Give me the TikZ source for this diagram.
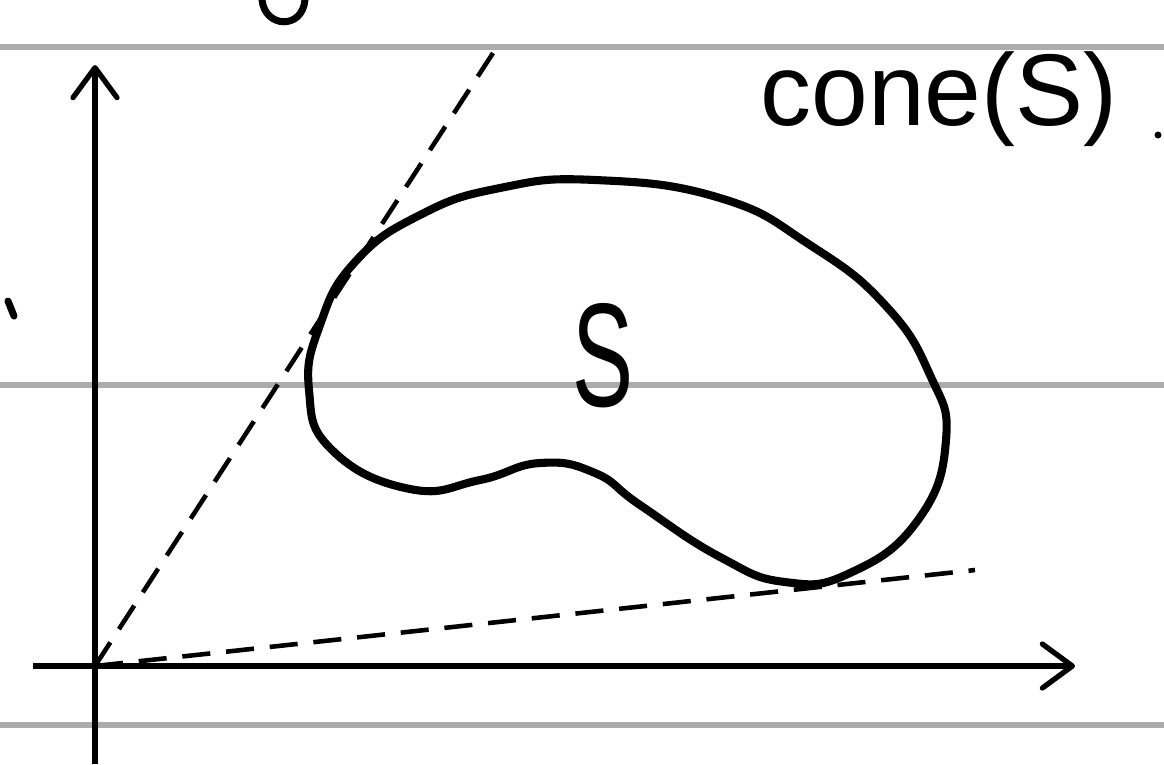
\documentclass[tikz,border=0pt]{standalone}
\usepackage{fontspec}
\setmainfont{Liberation Sans}
\usetikzlibrary{arrows.meta}
\tikzset{
  ruling/.style={draw=gray!65, line width=3pt},
  axis/.style={line width=3pt, -{Straight Barb[length=6mm,width=8.8mm,round]}},
  ray/.style={line width=2.6pt, dash pattern=on 16pt off 9pt},
  region/.style={line width=4.6pt, line join=round},
  pen/.style={line width=4pt, line cap=round},
  lbl/.style={inner sep=0pt, font=\fontsize{58}{60}\selectfont}
}
\begin{document}
\begin{tikzpicture}[x=0.2mm,y=-0.2mm]
  \useasboundingbox (0,0) rectangle (1164,764);
  % ruled paper
  \foreach \yy in {47,385,725}
    \draw[ruling] (0,\yy) -- (1164,\yy);
  % axes
  \coordinate (O) at (95,666);
  \coordinate (ybot) at (95,764);
  \coordinate (ytop) at (95,65);
  \coordinate (xleft) at (33,666);
  \coordinate (xright) at (1075,666);
  \draw[axis] (ybot) -- (ytop);
  \draw[axis] (xleft) -- (xright);
  % the two extreme rays
  \coordinate (r1) at (493,53);
  \coordinate (r2) at (975,570);
  \draw[ray] (O) -- (r1);
  \draw[ray] (O) -- (r2);
  % the set S
  \draw[region] plot[smooth cycle, tension=0.8] coordinates {
    (595,180) (720,198) (810,245) (885,305) (930,375) (946,440) (918,520)
    (850,573) (785,582) (720,557) (640,505) (595,473) (540,463) (480,480)
    (410,489) (332,450) (309,390) (320,325) (355,262) (420,215) (500,188)};
  \node[inner sep=0pt, font=\fontsize{84}{86}\selectfont] (slabel) at (603,356) {\scalebox{0.62}[1]{S}};
  \node[lbl, anchor=base west] (conelabel) at (760,125) {cone(S)};
  % stray pen marks
  \draw[pen] (262,0) .. controls (265,28) and (302,30) .. (305,0);
  \draw[pen] (8,301) -- (14,316);
  \fill (1158,135) circle (3.5);
\end{tikzpicture}
\end{document}
